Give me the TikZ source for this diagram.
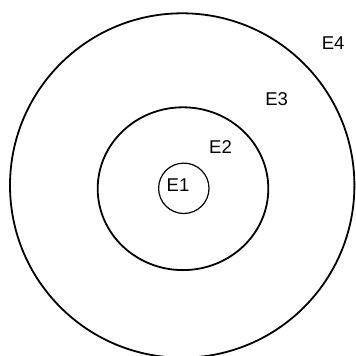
\documentclass[tikz,border=0pt]{standalone}
\usepackage{fontspec}
\setmainfont{Liberation Sans}
\begin{document}
\begin{tikzpicture}[x=1pt,y=-1pt,
  ring/.style={draw=black,line width=1.8pt},
  thinring/.style={draw=black,line width=1.2pt},
  lbl/.style={inner sep=0pt,font=\fontsize{18.5}{20}\selectfont}]
\useasboundingbox (0,0) rectangle (356,356);
\draw[ring] (182.2,185.5) circle [radius=172.2];
\draw[ring] (183,188.7) ellipse [x radius=85.3, y radius=81.4];
\draw[thinring] (183.8,188.3) circle [radius=25.2];
\node[lbl] (e1) at (178,184.8) {E1};
\node[lbl] (e2) at (220.5,147.2) {E2};
\node[lbl] (e3) at (276.7,99) {E3};
\node[lbl] (e4) at (333.2,42.7) {E4};
\end{tikzpicture}
\end{document}
